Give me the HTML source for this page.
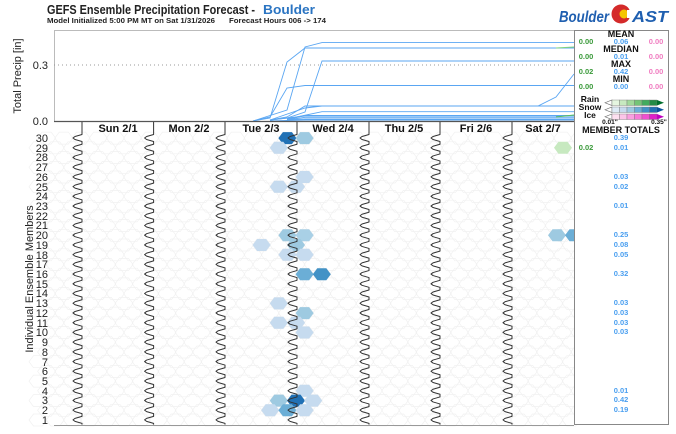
<!DOCTYPE html>
<html><head><meta charset="utf-8"><style>
html,body{margin:0;padding:0;background:#fff;width:676px;height:434px;overflow:hidden}
svg{display:block;font-family:"Liberation Sans",sans-serif}
</style></head><body>
<svg id="s" width="676" height="434" viewBox="0 0 676 434" xmlns="http://www.w3.org/2000/svg">
<g id="grid"></g>
<g id="cells"></g>
<g id="zig"></g>
<!-- titles -->
<text x="47" y="14" font-size="13" font-weight="bold" fill="#222" textLength="208" lengthAdjust="spacingAndGlyphs">GEFS Ensemble Precipitation Forecast -</text>
<text x="263" y="14" font-size="13" font-weight="bold" fill="#2a74c2" textLength="52" lengthAdjust="spacingAndGlyphs">Boulder</text>
<text x="47" y="23" font-size="7.6" font-weight="bold" fill="#222" textLength="168" lengthAdjust="spacingAndGlyphs">Model Initialized 5:00 PM MT on Sat 1/31/2026</text>
<text x="229" y="23" font-size="7.6" font-weight="bold" fill="#222" textLength="97" lengthAdjust="spacingAndGlyphs">Forecast Hours 006 -&gt; 174</text>
<!-- logo -->
<text x="559" y="22" font-size="16" font-weight="bold" font-style="italic" fill="#1f5fb0" textLength="50" lengthAdjust="spacingAndGlyphs">Boulder</text>
<circle cx="621" cy="14" r="9.5" fill="#d42a2a"/>
<circle cx="624" cy="14" r="4.5" fill="#f5c400"/>
<rect x="627" y="10" width="6" height="8" fill="#fff"/>
<text x="632" y="22" font-size="16" font-weight="bold" font-style="italic" fill="#1f5fb0" textLength="36" lengthAdjust="spacingAndGlyphs">AST</text>
<!-- top plot frame -->
<rect x="54.5" y="30.5" width="520" height="91" fill="none" stroke="#bbb"/>
<line x1="54" y1="65" x2="574" y2="65" stroke="#999" stroke-dasharray="1,3"/>
<text x="48" y="69" font-size="11" text-anchor="end" fill="#222">0.3</text>
<text x="48" y="125" font-size="11" text-anchor="end" fill="#222">0.0</text>
<text transform="translate(21,76) rotate(-90)" font-size="11" text-anchor="middle" fill="#222">Total Precip [in]</text>
<text transform="translate(33,279) rotate(-90)" font-size="11" text-anchor="middle" fill="#222">Individual Ensemble Members</text>
<g id="lines" fill="none" stroke="#5aa6f2" stroke-width="0.9"></g>
<line x1="54" y1="121.5" x2="574" y2="121.5" stroke="#555" stroke-width="1.2"/>
<line x1="54" y1="425.5" x2="574" y2="425.5" stroke="#999"/>
<!-- day labels -->
<g font-size="11" font-weight="bold" text-anchor="middle" fill="#111">
<text x="118" y="132">Sun 2/1</text><text x="189" y="132">Mon 2/2</text><text x="261" y="132">Tue 2/3</text>
<text x="333" y="132">Wed 2/4</text><text x="404" y="132">Thu 2/5</text><text x="476" y="132">Fri 2/6</text><text x="543" y="132">Sat 2/7</text>
</g>
<g id="rownums" font-size="11" text-anchor="end" fill="#222">
<text x="48" y="142">30</text><text x="48" y="152">29</text><text x="48" y="161">28</text><text x="48" y="171">27</text><text x="48" y="181">26</text><text x="48" y="191">25</text><text x="48" y="200">24</text><text x="48" y="210">23</text><text x="48" y="220">22</text><text x="48" y="229">21</text><text x="48" y="239">20</text><text x="48" y="249">19</text><text x="48" y="259">18</text><text x="48" y="268">17</text><text x="48" y="278">16</text><text x="48" y="288">15</text><text x="48" y="297">14</text><text x="48" y="307">13</text><text x="48" y="317">12</text><text x="48" y="327">11</text><text x="48" y="336">10</text><text x="48" y="346">9</text><text x="48" y="356">8</text><text x="48" y="366">7</text><text x="48" y="375">6</text><text x="48" y="385">5</text><text x="48" y="395">4</text><text x="48" y="404">3</text><text x="48" y="414">2</text><text x="48" y="424">1</text>
</g>
<!-- right panel -->
<rect x="574.5" y="30.5" width="94" height="394" fill="#fff" stroke="#888"/>
<g font-size="9" font-weight="bold" text-anchor="middle" fill="#111">
<text x="621" y="37">MEAN</text><text x="621" y="52">MEDIAN</text><text x="621" y="67">MAX</text><text x="621" y="82">MIN</text>
<text x="621" y="133">MEMBER TOTALS</text>
</g>
<g font-size="7.5" font-weight="bold" text-anchor="middle">
<g fill="#3a9a3a"><text x="586" y="44">0.00</text><text x="586" y="59">0.00</text><text x="586" y="74">0.02</text><text x="586" y="89">0.00</text><text x="586" y="150">0.02</text></g>
<g fill="#4a9ff0"><text x="621" y="44">0.06</text><text x="621" y="59">0.01</text><text x="621" y="74">0.42</text><text x="621" y="89">0.00</text></g>
<g fill="#f07cc0"><text x="656" y="44">0.00</text><text x="656" y="59">0.00</text><text x="656" y="74">0.00</text><text x="656" y="89">0.00</text></g>
<g fill="#4a9ff0">
<text x="621" y="140">0.39</text><text x="621" y="150">0.01</text><text x="621" y="179">0.03</text><text x="621" y="189">0.02</text><text x="621" y="208">0.01</text>
<text x="621" y="237">0.25</text><text x="621" y="247">0.08</text><text x="621" y="257">0.05</text><text x="621" y="276">0.32</text>
<text x="621" y="305">0.03</text><text x="621" y="315">0.03</text><text x="621" y="325">0.03</text><text x="621" y="334">0.03</text>
<text x="621" y="393">0.01</text><text x="621" y="402">0.42</text><text x="621" y="412">0.19</text>
</g>
<g fill="#111" font-size="6.5"><text x="610" y="124">0.01"</text><text x="659" y="124">0.35"</text></g>
</g>
<g font-size="8.5" font-weight="bold" text-anchor="middle" fill="#111">
<text x="590" y="102">Rain</text><text x="590" y="110">Snow</text><text x="590" y="118">Ice</text>
</g>
<g id="bars"></g>
</svg>
<script>
var NS="http://www.w3.org/2000/svg";
function el(p,t,a){var e=document.createElementNS(NS,t);for(var k in a)e.setAttribute(k,a[k]);document.getElementById(p).appendChild(e);return e;}
function rowY(r){return 420-(r-1)*9.72;}
function hex(cx,cy){var w=9,h=6;return [[cx-w,cy],[cx-w/2,cy-h],[cx+w/2,cy-h],[cx+w,cy],[cx+w/2,cy+h],[cx-w/2,cy+h]].map(function(p){return p[0].toFixed(1)+","+p[1].toFixed(1)}).join(" ");}
for(var r=1;r<=30;r++){var off=(r%2)?296:287.4;var x0=off-Math.ceil((off-54)/17.2)*17.2;
 for(var x=x0;x<584;x+=17.2){el("grid","polygon",{points:hex(x,rowY(r)),fill:"none",stroke:"#f1f1f1","stroke-width":"0.7"});}}
var C1="#c6dbef",C2="#9ecae1",C3="#6baed6",C4="#4292c6",C5="#2171b5",G="#c7e9c0";
var cells=[[30,287.4,C5],[30,304.6,C2],[29,278.8,C1],[29,563,G],[26,304.6,C1],[25,278.8,C1],[25,296,C1],
[20,287.4,C2],[20,304.6,"#a9d0e6"],[20,557,C2],[20,574,C3],[19,261.6,C1],[19,296,C2],[18,287.4,C1],[18,304.6,C1],
[16,304.6,C3],[16,321.8,C4],[13,278.8,C1],[12,304.6,C2],[11,278.8,C1],[11,296,C1],[10,304.6,C1],
[4,304.6,C1],[3,278.8,C2],[3,296,C5],[3,313.2,C1],[2,270.2,C1],[2,287.4,C3],[2,304.6,C1]];
cells.forEach(function(c){el("cells","polygon",{points:hex(c[1],rowY(c[0])),fill:c[2]});});
[82,153.6,225,297,369,440,512].forEach(function(x){
 var d="M"+x+",121 L"+x+",133";
 for(var k=0;k<30;k++){var y=133+k*9.72;d+=" L"+x+","+(y+1.5)+" L"+(x-7)+","+(y+3.5)+" L"+(x-9)+","+(y+5)+" L"+(x-7)+","+(y+6.5)+" L"+x+","+(y+8.5)+" L"+x+","+(y+9.72);}
 el("zig","path",{d:d,fill:"none",stroke:"#333","stroke-width":"1","stroke-linejoin":"round"});
});
var L=[
"253,121 287,110 305,47 322,42.6 574,42.6",
"253,121 270,118 287,62 305,48 574,48",
"270,120 287,118 305,112 322,61 574,61",
"253,121 270,117 287,88 305,85.5 574,85.5",
"270,120 305,108 322,106 538,106 556,97 574,74",
"270,120 287,117 305,106 574,106",
"287,119 322,111.7 574,111.7",
"287,119 305,115.4 574,115.4","270,120 305,116 574,116","287,120 305,115.4 574,115.4",
"287,120 305,117.3 574,117.3","287,120 305,119 574,119","270,121 305,120 574,120"];
L.forEach(function(p){el("lines","polyline",{points:p});});
el("lines","line",{x1:556,y1:48,x2:574,y2:47,stroke:"#7ed37e"});
el("lines","line",{x1:556,y1:117,x2:574,y2:115,stroke:"#5cbf5c"});
var pal=[["#e5f5e0","#c7e9c0","#a1d99b","#74c476","#41ab5d","#238b45","#006d2c"],["#deebf7","#c6dbef","#9ecae1","#6baed6","#4292c6","#2171b5","#08519c"],["#fde0f0","#fcc5e8","#fa9fe0","#f77ad8","#f050d0","#e020c8","#c000c0"]];
pal.forEach(function(p,i){var y=100+i*7,h=5.5;
 el("bars","polygon",{points:"605,"+(y+h/2)+" 612,"+y+" 612,"+(y+h),fill:"#fff",stroke:"#666","stroke-width":"0.6"});
 for(var j=0;j<6;j++)el("bars","rect",{x:612+j*7.5,y:y,width:7.5,height:h,fill:p[j],stroke:"#777","stroke-width":"0.4"});
 el("bars","polygon",{points:"657,"+y+" 664,"+(y+h/2)+" 657,"+(y+h),fill:p[6]});
});
</script>
</body></html>
